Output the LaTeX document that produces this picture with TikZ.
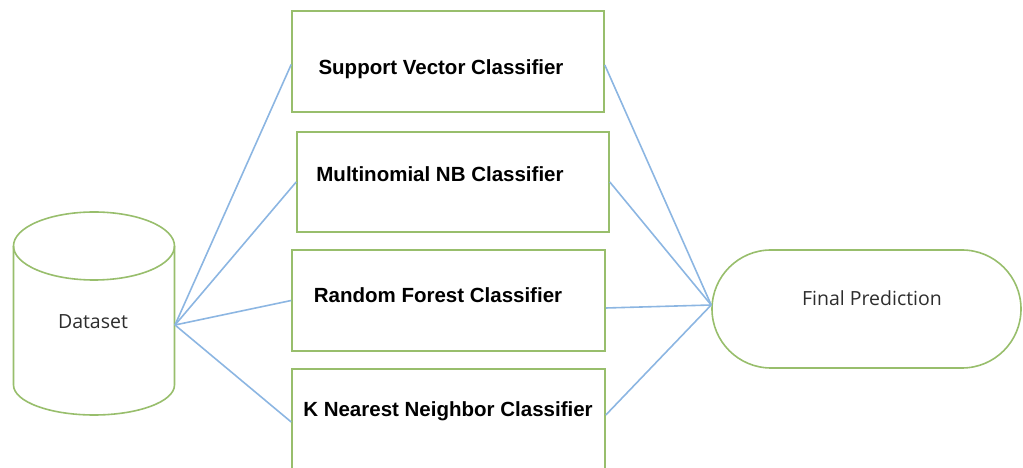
\documentclass[tikz,border=0pt]{standalone}
\usepackage{fontspec}
\setmainfont{Liberation Sans}
\newfontfamily\osans{Open Sans}
\definecolor{boxgreen}{RGB}{152,190,108}
\definecolor{lineblue}{RGB}{140,182,226}
\definecolor{softtext}{RGB}{45,45,45}
\begin{document}
\begin{tikzpicture}[x=1pt,y=1pt,
  clfbox/.style={draw=boxgreen,line width=1.6pt,fill=white,minimum width=312pt,minimum height=101pt,inner sep=0pt},
  clftext/.style={font=\fontsize{20.5}{24}\selectfont\bfseries,text=black,inner sep=0pt},
  softlabel/.style={font=\osans\fontsize{19.5}{23}\selectfont,text=softtext,inner sep=0pt},
  link/.style={draw=lineblue,line width=1.6pt}]
\useasboundingbox (0,0) rectangle (1023,468);
% dataset cylinder
\draw[boxgreen,line width=1.6pt,fill=white]
  (13.5,222) -- (13.5,83) arc[start angle=180,end angle=360,x radius=80.5,y radius=30] -- (174.5,222);
\draw[boxgreen,line width=1.6pt] (94,222) ellipse[x radius=80.5,y radius=34];
\node[softlabel] (ds) at (93,146) {Dataset};
\coordinate (dsE) at (175,143);
% classifier boxes
\node[clfbox] (b1) at (448,406.5) {};
\node[clfbox,minimum height=100pt] (b2) at (453,286) {};
\node[clfbox,minimum width=313pt] (b3) at (448.5,167.5) {};
\node[clfbox,minimum width=313pt] (b4) at (448.5,48.5) {};
\node[clftext] (t1) at (441,399) {Support Vector Classifier};
\node[clftext] (t2) at (440,294) {Multinomial NB Classifier};
\node[clftext] (t3) at (438,173) {Random Forest Classifier};
\node[clftext] (t4) at (448,57) {K Nearest Neighbor Classifier};
% final prediction
\node[draw=boxgreen,line width=1.6pt,rounded corners=59pt,minimum width=309pt,minimum height=118pt,inner sep=0pt] (fp) at (866.5,159) {};
\node[softlabel] (fpt) at (872,170) {Final Prediction};
\coordinate (hub) at ([yshift=4pt]fp.west);
% connectors
\draw[link] (dsE) -- ([yshift=-3pt]b1.west);
\draw[link] (dsE) -- (b2.west);
\draw[link] (dsE) -- (b3.west);
\draw[link] (dsE) -- ([yshift=-2.5pt]b4.west);
\draw[link] ([yshift=-3.5pt]b1.east) -- (hub);
\draw[link] (b2.east) -- (hub);
\draw[link] ([yshift=-7.5pt]b3.east) -- (hub);
\draw[link] ([yshift=4.5pt]b4.east) -- (hub);
\end{tikzpicture}
\end{document}
